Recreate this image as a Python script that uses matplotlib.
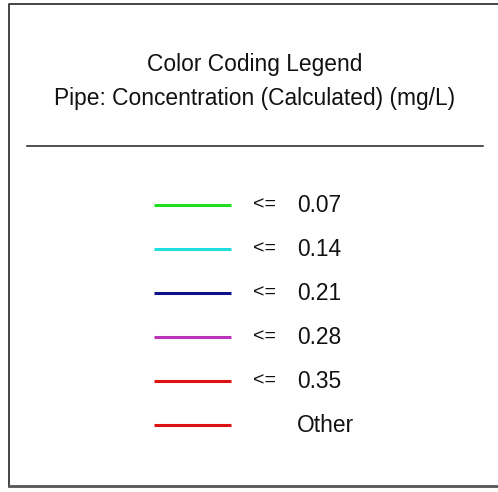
import matplotlib
matplotlib.use("Agg")
import matplotlib.pyplot as plt

title = "Color Coding Legend"
subtitle = "Pipe: Concentration (Calculated) (mg/L)"
ops = ["<=", "<=", "<=", "<=", "<=", ""]
labels = ["0.07", "0.14", "0.21", "0.28", "0.35", "Other"]
colors = ["#22dd22", "#22dddd", "#111188", "#bb33bb", "#dd1111", "#dd1111"]

plt.rcParams['font.family'] = ['Liberation Sans', 'DejaVu Sans']

fig = plt.figure(figsize=(4.98, 4.92), dpi=100)
ax = fig.add_axes([0, 0, 1, 1])
ax.set_xlim(0, 498)
ax.set_ylim(492, 0)
ax.axis('off')

# outer frame (right side runs off the image)
ax.plot([9, 9, 498], [486, 4, 4], color='#444444', lw=1.4)
ax.plot([9, 498], [486, 486], color='#555555', lw=2)

ax.text(255, 65, title, ha='center', va='center', fontsize=16.4, color='#111111')
ax.text(255, 98, subtitle, ha='center', va='center', fontsize=16.4, color='#111111')
ax.plot([27, 483], [146, 146], color='#222222', lw=1.1)

y0, step = 205, 44
for i, (op, lab, c) in enumerate(zip(ops, labels, colors)):
    y = y0 + i * step
    ax.plot([154, 231], [y, y], color=c, lw=2.2, solid_capstyle='butt')
    if op:
        ax.text(253, y, op, ha='left', va='center', fontsize=14, color='#111111')
    ax.text(297, y + 1, lab, ha='left', va='center', fontsize=16.4, color='#111111')

fig.savefig('out.png', dpi=100)
